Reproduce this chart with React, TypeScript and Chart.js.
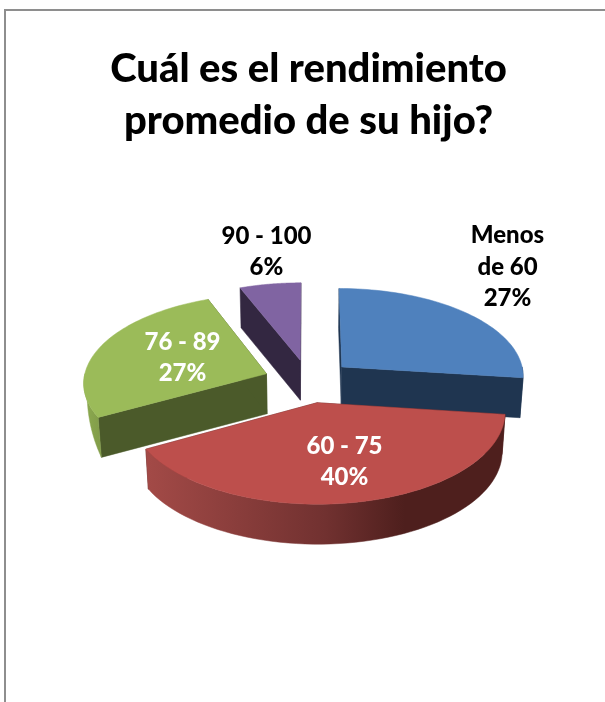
import React, { useEffect, useRef } from "react";
import { Chart, registerables } from "chart.js";

Chart.register(...registerables);

const titleLines = ["Cuál es el rendimiento", "promedio de su hijo?"];
const categoryLines = [["Menos", "de 60"], ["60 - 75"], ["76 - 89"], ["90 - 100"]];
const values = [27, 40, 27, 6];
const topColors = ["#4f81bd", "#bd4f4c", "#9bbb59", "#8064a2"];
const wallColors = ["#1f3550", "#4e1f1d", "#4b5a2a", "#332741"];
const labelColors = ["#000000", "#ffffff", "#ffffff", "#000000"];
const labelOffsets = [[199, -114], [36, 81], [-126, -23], [-42, -129]];
const drawOrder = [3, 0, 2, 1];

const RADIUS = 183;
const EXPLODE = 45;
const SQUASH = 88;
const PERSPECTIVE = 0.091;
const DEPTH = 40;
const CONVERGE = 0.985;
const LEFT_FADE = 0.485;
const LABEL_FONT = "900 24px Lato";
const LABEL_LINE = 31.5;

const pie3d = {
  id: "pie3d",
  beforeDatasetsDraw(chart: any) {
    const ctx = chart.ctx;
    const arcs = chart.getDatasetMeta(0).data;
    const project = (arc: any, angle: number, r: number) => {
      const mid = (arc.startAngle + arc.endAngle) / 2;
      const off = arc.options.offset;
      const u = (Math.cos(mid) * off + Math.cos(angle) * r) / arc.outerRadius;
      const v = (Math.sin(mid) * off + Math.sin(angle) * r) / arc.outerRadius;
      const w = 1 / (1 - PERSPECTIVE * v);
      return { x: arc.x + arc.outerRadius * u * w, y: arc.y + SQUASH * v * w };
    };
    const lower = (p: { x: number; y: number }, cx: number, fade = 1) => ({
      x: cx + (p.x - cx) * CONVERGE,
      y: p.y + DEPTH * fade,
    });
    const fillPoly = (pts: { x: number; y: number }[], fill: any) => {
      ctx.beginPath();
      pts.forEach((p, i) => (i ? ctx.lineTo(p.x, p.y) : ctx.moveTo(p.x, p.y)));
      ctx.closePath();
      ctx.fillStyle = fill;
      ctx.fill();
      ctx.strokeStyle = fill;
      ctx.lineWidth = 0.5;
      ctx.stroke();
    };
    const angleAt = (from: number, to: number, i: number, steps: number) => from + ((to - from) * i) / steps;
    const STEPS = 60;
    const sweep = (arc: any, from: number, to: number) => {
      const out = [];
      for (let i = 0; i <= STEPS; i++) {
        out.push(project(arc, angleAt(from, to, i, STEPS), arc.outerRadius));
      }
      return out;
    };
    drawOrder.forEach((idx) => {
      const arc = arcs[idx];
      const cx = arc.x;
      const apex = project(arc, 0, 0);
      [arc.startAngle, arc.endAngle].forEach((a: number) => {
        const rim = project(arc, a, arc.outerRadius);
        fillPoly([apex, rim, lower(rim, cx), lower(apex, cx)], wallColors[idx]);
      });
      const from = Math.max(arc.startAngle, 0);
      const to = Math.min(arc.endAngle, Math.PI);
      if (to > from) {
        const rimPts = sweep(arc, from, to);
        const bottom = rimPts.map((p, i) => {
          const a = angleAt(from, to, i, STEPS);
          const fade = a > Math.PI / 2 ? Math.min(1, Math.sin(a) / LEFT_FADE) : 1;
          return lower(p, cx, fade);
        });
        const wall = rimPts.concat(bottom.reverse());
        const xs = rimPts.map((p) => p.x);
        const grad = ctx.createLinearGradient(Math.min(...xs), 0, Math.max(...xs), 0);
        if (idx === 1) {
          grad.addColorStop(0, "#a34a47");
          grad.addColorStop(0.5, "#713130");
          grad.addColorStop(0.72, "#4e1f1d");
          grad.addColorStop(1, "#4e1f1d");
        } else if (idx === 2) {
          grad.addColorStop(0, "#8dab50");
          grad.addColorStop(1, "#839e4a");
        } else {
          grad.addColorStop(0, wallColors[idx]);
          grad.addColorStop(1, wallColors[idx]);
        }
        fillPoly(wall, grad);
      }
      fillPoly([apex, ...sweep(arc, arc.startAngle, arc.endAngle)], topColors[idx]);
    });
    return false;
  },
  afterDraw(chart: any) {
    const ctx = chart.ctx;
    const arcs = chart.getDatasetMeta(0).data;
    ctx.save();
    ctx.font = LABEL_FONT;
    ctx.textAlign = "center";
    ctx.textBaseline = "middle";
    arcs.forEach((arc: any, i: number) => {
      const lines = [...categoryLines[i], values[i] + "%"];
      const top = arc.y + labelOffsets[i][1] - ((lines.length - 1) * LABEL_LINE) / 2;
      ctx.fillStyle = labelColors[i];
      lines.forEach((t, j) => ctx.fillText(t, arc.x + labelOffsets[i][0], top + j * LABEL_LINE));
    });
    ctx.restore();
  },
};

export default function App() {
  const ref = useRef<HTMLCanvasElement>(null);
  useEffect(() => {
    const chart = new Chart(ref.current as HTMLCanvasElement, {
      type: "pie",
      data: {
        labels: categoryLines.map((l) => l.join(" ")),
        datasets: [
          {
            data: values,
            backgroundColor: topColors,
            offset: EXPLODE,
            borderWidth: 0,
            radius: RADIUS,
          } as any,
        ],
      },
      options: {
        animation: false,
        responsive: false,
        layout: { padding: { left: 12, right: 0, top: 30, bottom: 87 } },
        plugins: {
          legend: { display: false },
          tooltip: { enabled: false },
          title: {
            display: true,
            text: titleLines,
            color: "#000000",
            font: { family: "Lato", size: 40, weight: "900", lineHeight: 1.3 },
            padding: { top: 13, bottom: 0 },
          },
        },
      },
      plugins: [pie3d],
    } as any);
    return () => chart.destroy();
  }, []);
  return (
    <div style={{ position: "absolute", left: 0, top: 0, width: 605, height: 702, overflow: "hidden", background: "#fff" }}>
      <canvas ref={ref} width={605} height={702} style={{ display: "block" }} />
      <div
        style={{
          position: "absolute",
          left: 4,
          top: 9,
          right: -10,
          bottom: -10,
          borderTop: "2px solid #8e8e8e",
          borderLeft: "2px solid #8e8e8e",
          pointerEvents: "none",
        }}
      />
    </div>
  );
}
